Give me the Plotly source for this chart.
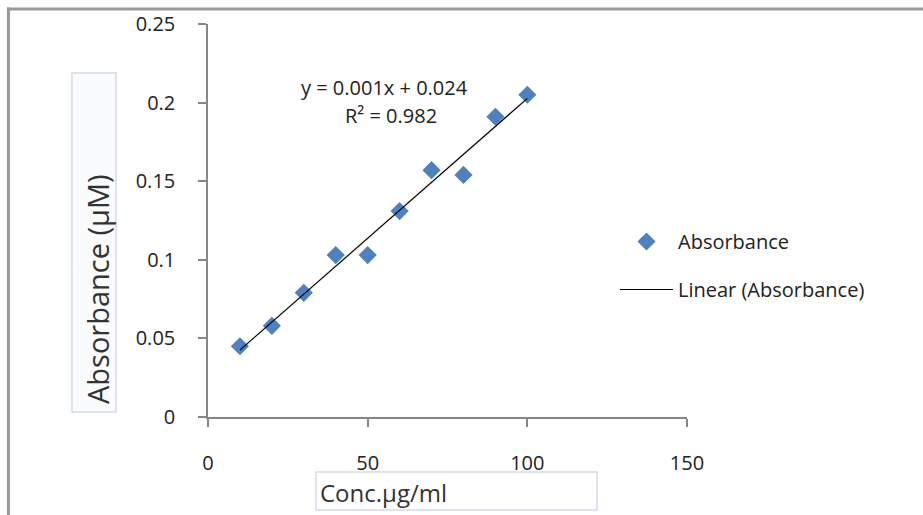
import numpy as np
import plotly.graph_objects as go

# ---- data ----
conc = [10, 20, 30, 40, 50, 60, 70, 80, 90, 100]
absorbance = [0.045, 0.058, 0.079, 0.103, 0.103, 0.131, 0.157, 0.154, 0.191, 0.205]
x_ticks = [0, 50, 100, 150]
y_ticks = [0, 0.05, 0.1, 0.15, 0.2, 0.25]
y_tick_text = ["0", "0.05", "0.1", "0.15", "0.2", "0.25"]
eq_text = "y = 0.001x + 0.024"
r2_text = "R² = 0.982"
x_title = "Conc.µg/ml"
y_title = "Absorbance (µM)"

W, H = 923, 515
FONT = "Open Sans"
PL, PR, PT, PB = 208, 687, 24, 417
PW, PH = PR - PL, PB - PT


def px(x):
    return (x - PL) / PW


def py(y):
    return (PB - y) / PH


slope, intercept = np.polyfit(conc, absorbance, 1)
trend_x = [min(conc), max(conc)]
trend_y = [slope * v + intercept for v in trend_x]

fig = go.Figure()
fig.add_trace(go.Scatter(
    x=conc, y=absorbance, mode="markers", name="Absorbance",
    marker=dict(symbol="diamond", size=14, color="#4F81BD", line=dict(width=0)),
    legendgroup="a",
))
fig.add_trace(go.Scatter(
    x=trend_x, y=trend_y, mode="lines", name="Linear (Absorbance)",
    line=dict(color="#000000", width=1.2), legendgroup="b",
))

axis_common = dict(
    showgrid=False, zeroline=False, showline=True, linecolor="#868686", linewidth=1.5,
    ticks="outside", ticklen=8, tickcolor="#868686", tickwidth=1.5,
    tickfont=dict(family=FONT, size=20, color="#222222"),
)
fig.update_xaxes(range=[0, 150], tickvals=x_ticks, ticklabelstandoff=19, **axis_common)
fig.update_yaxes(range=[0, 0.25], tickvals=y_ticks, ticktext=y_tick_text,
                 ticklabelstandoff=19, **axis_common)

fig.update_layout(
    width=W, height=H,
    margin=dict(l=PL, r=W - PR, t=PT, b=H - PB, autoexpand=False),
    paper_bgcolor="white", plot_bgcolor="white",
    font=dict(family=FONT, color="#222222"),
    showlegend=True,
    legend=dict(xref="container", yref="container", x=615 / W, y=1 - 222 / H,
                xanchor="left", yanchor="top",
                font=dict(family=FONT, size=20, color="#222222"),
                tracegroupgap=19, itemwidth=53, bgcolor="rgba(0,0,0,0)"),
)

# equation annotations
ann_font = dict(family=FONT, size=20, color="#222222")
fig.add_annotation(xref="paper", yref="paper", x=px(384), y=py(87),
                   xanchor="center", yanchor="middle",
                   text=eq_text, showarrow=False, font=ann_font)
fig.add_annotation(xref="paper", yref="paper", x=px(391), y=py(115),
                   xanchor="center", yanchor="middle",
                   text=r2_text, showarrow=False, font=ann_font)

# axis title boxes
fig.add_shape(type="rect", xref="paper", yref="paper",
              x0=px(72), x1=px(116), y0=py(412), y1=py(73),
              line=dict(color="#D5DCE6", width=1.5), fillcolor="rgba(250,251,253,1)", layer="below")
fig.add_annotation(xref="paper", yref="paper", x=px(97), y=py(289),
                   xanchor="center", yanchor="middle",
                   text=y_title, textangle=-90, showarrow=False,
                   font=dict(family=FONT, size=29, color="#333333"))
fig.add_shape(type="rect", xref="paper", yref="paper",
              x0=px(316), x1=px(597), y0=py(510), y1=py(472),
              line=dict(color="#D5DCE6", width=1.5), fillcolor="white", layer="below")
fig.add_annotation(xref="paper", yref="paper", x=px(318), y=py(492),
                   xanchor="left", yanchor="middle", text=x_title, showarrow=False,
                   font=dict(family=FONT, size=24, color="#333333"))

# outer frame (top and left edges)
fig.add_shape(type="line", xref="paper", yref="paper",
              x0=px(7), x1=px(W), y0=py(9), y1=py(9),
              line=dict(color="#9A9A9A", width=3))
fig.add_shape(type="line", xref="paper", yref="paper",
              x0=px(8.5), x1=px(8.5), y0=py(7.5), y1=py(H),
              line=dict(color="#9A9A9A", width=3))

fig.write_html("out.html")
